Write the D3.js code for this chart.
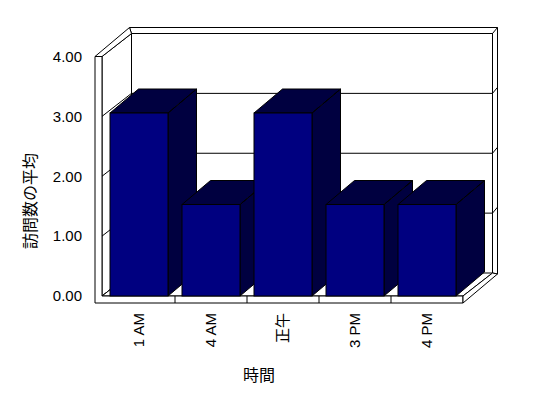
<!DOCTYPE html>
<html>
<head>
<meta charset="utf-8">
<script src="https://cdn.jsdelivr.net/npm/d3@7"></script>
<style>
  body { margin: 0; background: #fff; }
  svg { display: block; }
  text { font-family: "Liberation Sans", Arial, "Noto Sans CJK JP", sans-serif; fill: #000; }
</style>
</head>
<body>
<div id="chart"></div>
<script>
// data
const categories = ["1 AM", "4 AM", "正午", "3 PM", "4 PM"];
const values = [3, 1.5, 3, 1.5, 1.5];
const yTicks = [0, 1, 2, 3, 4];
const yTitle = "訪問数の平均";
const xTitle = "時間";

const width = 548, height = 398;

// frame of the 3d box
const wallOuter = 95, wallInner = 102;
const plotRight = 463;
const base = 296, floorBottom = 303;
const depth = [29.5, -23];       // inner depth of the box
const depthOuter = [34.5, -29];  // outer edge of walls
const barDepth = [28.5, -24];
const shade = "#000040";         // dithered navy/black of top and side faces

const svg = d3.select("#chart")
  .append("svg")
    .attr("width", width)
    .attr("height", height);

const x = d3.scaleBand()
  .domain(categories)
  .range([103, plotRight])
  .paddingInner(14 / 72)
  .paddingOuter(7 / 72);

// wall scale and bar scale (bars sit a bit forward, slightly larger)
const y = d3.scaleLinear().domain([0, 4]).range([base, 56.5]);
const yBar = d3.scaleLinear().domain([0, 4]).range([base, base - 4 * 61]);

const line = d3.line();
const g = svg.append("g")
  .attr("stroke", "#000")
  .attr("stroke-width", 1)
  .attr("fill", "none");

const top4 = y(4);
const bx0 = wallInner + depth[0], bx1 = plotRight + depth[0];
const by0 = top4 + depth[1], by1 = base + depth[1];

// back wall
g.append("path")
  .attr("fill", "#fff")
  .attr("d", line([
    [wallOuter + depthOuter[0], top4 + depthOuter[1]],
    [plotRight + depthOuter[0], top4 + depthOuter[1]],
    [plotRight + depthOuter[0], floorBottom + depthOuter[1]],
    [bx1, by1], [bx1, by0], [bx0, by0]
  ]) + "Z");
g.append("path").attr("d", line([[bx0, by1], [bx0, by0], [bx1, by0], [bx1, by1]]));
g.append("path").attr("d", line([[bx1, by0], [plotRight + depthOuter[0], top4 + depthOuter[1]]]));

// back wall gridlines
g.selectAll(".grid")
  .data(yTicks.filter(d => d > 0 && d < 4))
  .join("path")
    .attr("class", "grid")
    .attr("d", d => line([
      [bx0, y(d) + depth[1]], [bx1, y(d) + depth[1]],
      [bx1 + 5, y(d) + depth[1] - 6]
    ]));

// left wall
g.append("path")
  .attr("fill", "#fff")
  .attr("d", line([
    [wallInner, top4], [bx0, by0], [bx0, by1], [wallInner, base]
  ]) + "Z");
g.append("path")
  .attr("fill", "#fff")
  .attr("d", line([
    [wallOuter, top4], [wallOuter + depthOuter[0], top4 + depthOuter[1]],
    [bx0, by0], [wallInner, top4]
  ]) + "Z");
g.selectAll(".lgrid")
  .data(yTicks.filter(d => d < 4))
  .join("path")
    .attr("class", "lgrid")
    .attr("d", d => line([[wallOuter, y(d)], [wallInner, y(d)], [bx0, y(d) + depth[1]]]));

// floor
g.append("path")
  .attr("fill", "#fff")
  .attr("d", line([[wallInner, base], [plotRight, base], [bx1, by1], [bx0, by1]]) + "Z");
g.append("path")
  .attr("fill", "#fff")
  .attr("d", line([
    [wallOuter, top4], [wallInner, top4], [wallInner, base], [plotRight, base],
    [plotRight, floorBottom], [wallOuter, floorBottom]
  ]) + "Z");
g.append("path")
  .attr("fill", "#fff")
  .attr("d", line([
    [plotRight, base], [bx1, by1],
    [plotRight + depthOuter[0], floorBottom + depthOuter[1]], [plotRight, floorBottom]
  ]) + "Z");

// category dividers on the floor edge
g.selectAll(".div")
  .data(categories.slice(1))
  .join("path")
    .attr("class", "div")
    .attr("d", d => {
      const xd = x(d) - x.step() * x.paddingInner() / 2;
      return line([[xd, base], [xd, floorBottom]]);
    });

// bars
const data = categories.map((c, i) => ({ c, v: values[i] }));
const bars = g.selectAll(".bar")
  .data(data)
  .join("g")
    .attr("class", "bar");

bars.each(function(d) {
  const b = d3.select(this);
  const xl = x(d.c), xr = x(d.c) + x.bandwidth();
  const yt = yBar(d.v), yb = yBar(0);
  const [dx, dy] = barDepth;
  // side
  b.append("path")
    .attr("fill", shade)
    .attr("d", line([[xr, yt], [xr + dx, yt + dy], [xr + dx, yb + dy], [xr, yb]]) + "Z");
  // top
  b.append("path")
    .attr("fill", shade)
    .attr("d", line([[xl, yt], [xl + dx, yt + dy], [xr + dx, yt + dy], [xr, yt]]) + "Z");
  b.append("path")
    .attr("stroke-dasharray", "7,6")
    .attr("stroke-dashoffset", -2)
    .attr("d", line([[xr, yt], [xr + dx, yt + dy]]));
  // front
  b.append("rect")
    .attr("fill", "#000080")
    .attr("x", xl).attr("y", yt)
    .attr("width", x.bandwidth()).attr("height", yb - yt);
});

// y tick labels
svg.append("g")
  .attr("font-size", 15)
  .selectAll("text")
  .data(yTicks)
  .join("text")
    .attr("x", 82)
    .attr("y", d => y(d))
    .attr("dy", "0.35em")
    .attr("text-anchor", "end")
    .text(d3.format(".2f"));

// category labels
svg.append("g")
  .attr("font-size", 15)
  .selectAll("text")
  .data(categories)
  .join("text")
    .attr("transform", d => `translate(${x(d) + x.bandwidth() / 2},313) rotate(-90)`)
    .attr("dy", "0.35em")
    .attr("text-anchor", "end")
    .text(d => d);

svg.append("text")
  .attr("x", 259)
  .attr("y", 375)
  .attr("dy", "0.35em")
  .attr("font-size", 16)
  .attr("text-anchor", "middle")
  .text(xTitle);

svg.append("text")
  .attr("transform", "translate(30,201) rotate(-90)")
  .attr("dy", "0.35em")
  .attr("font-size", 16)
  .attr("text-anchor", "middle")
  .text(yTitle);
</script>
</body>
</html>
